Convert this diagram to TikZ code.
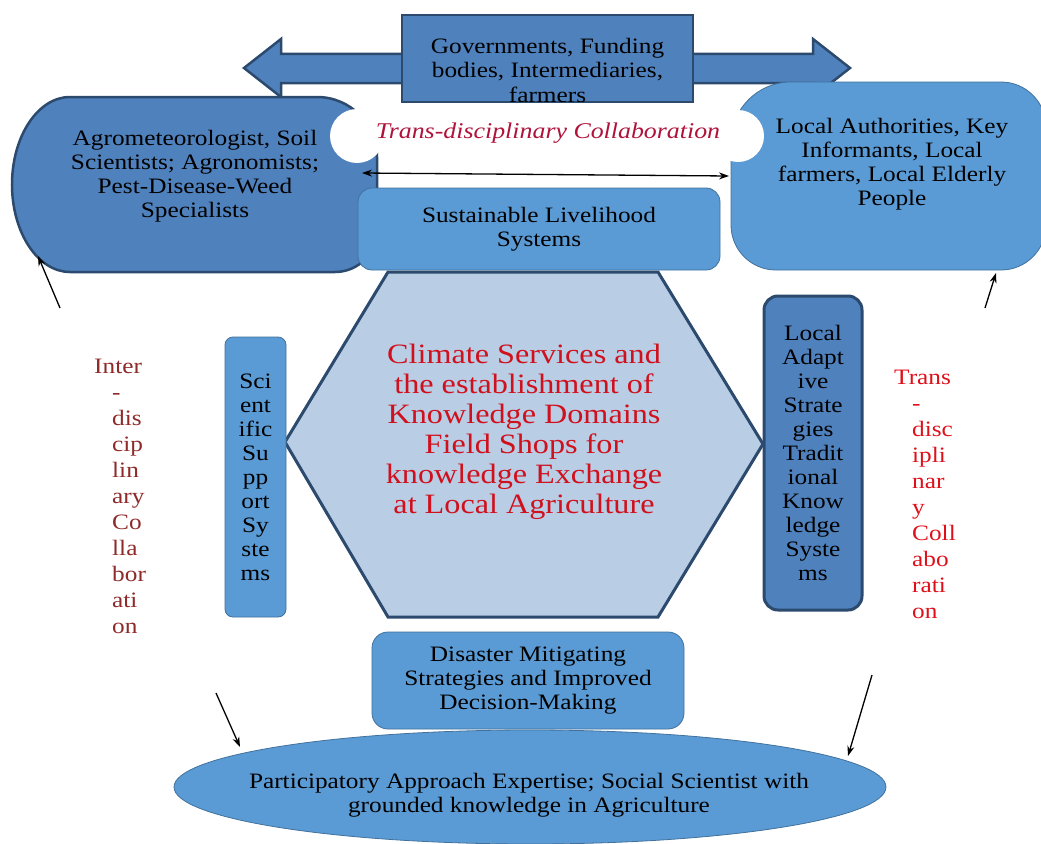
\documentclass[tikz,border=0pt]{standalone}
\usepackage{fontspec}
\setmainfont{Liberation Serif}[FakeStretch=1.15]
\usetikzlibrary{arrows.meta,shapes.geometric}
\definecolor{boxdark}{HTML}{4F81BD}
\definecolor{boxlight}{HTML}{5B9BD5}
\definecolor{hexfill}{HTML}{B9CDE5}
\definecolor{edgedark}{HTML}{2C4A6E}
\definecolor{edgemid}{HTML}{41719C}
\definecolor{hexred}{HTML}{D0101C}
\definecolor{interred}{HTML}{8E2A2A}
\definecolor{transred}{HTML}{E0101A}
\definecolor{crimsonred}{HTML}{B0123A}
\begin{document}
\begin{tikzpicture}[x=1pt,y=-1pt,
  lbl/.style={inner sep=0pt, align=center, font=\fontsize{22}{24}\selectfont},
  vlbl/.style={inner sep=0pt, align=left, font=\fontsize{22}{26}\selectfont},
  darkshape/.style={fill=boxdark, draw=edgedark, line width=2.5pt},
  lightbox/.style={fill=boxlight, draw=edgemid, line width=0.8pt, inner sep=0pt,
    align=center, font=\fontsize{22}{24}\selectfont},
  darkbox/.style={fill=boxdark, draw=edgedark, line width=3pt, inner sep=0pt,
    align=center, font=\fontsize{22}{24}\selectfont},
  conn/.style={draw=black, line width=1.3pt, -{Stealth[length=10pt,width=7pt]}}]

\useasboundingbox (0,0) rectangle (1041,843);
\fill[white] (0,0) rectangle (1041,843);
\clip (0,0) rectangle (1041,843);

% double block arrow behind the funding box
\path[darkshape] (244,68) -- (281,39) -- (281,54) -- (813,54) -- (813,39)
  -- (850,68) -- (813,97) -- (813,83) -- (281,83) -- (281,97) -- cycle;
\node[darkshape, minimum width=291, minimum height=87, inner sep=0pt] (gov) at (547.5,58.5) {};
\begin{scope}
  \clip (403,16) rectangle (692,101);
  \node[lbl, font=\fontsize{22}{24.5}\selectfont] (govtxt) at (547.5,70) {Governments, Funding\\bodies, Intermediaries,\\farmers};
\end{scope}

% left expert group
\path[darkshape] (70,97) -- (317,97) .. controls (350.1,97) and (377,123.9) .. (377,157)
  -- (377,230) .. controls (377,253.2) and (358.2,272) .. (335,272) -- (70,272)
  .. controls (38,272) and (12,232.8) .. (12,184.5)
  .. controls (12,136.2) and (38,97) .. (70,97) -- cycle;
\node[lbl] (experts) at (195,176.5) {Agrometeorologist, Soil\\Scientists; Agronomists;\\Pest-Disease-Weed\\Specialists};

% right local group
\path[fill=boxlight, draw=edgemid, line width=0.8pt]
  (791,82) -- (1001,82) .. controls (1025.9,82) and (1046,102.1) .. (1046,127)
  -- (1046,225) .. controls (1046,249.9) and (1025.9,270) .. (1001,270)
  -- (776,270) .. controls (751.1,270) and (731,249.9) .. (731,225)
  -- (731,142) .. controls (731,108.9) and (757.9,82) .. (791,82) -- cycle;
\node[lbl] (locals) at (892,164) {Local Authorities, Key\\Informants, Local\\farmers, Local Elderly\\People};

% white band carrying the collaboration label
\fill[white] (548,135) ellipse [x radius=200, y radius=30];
\fill[white] (357,136) circle [radius=27];
\fill[white] (738,136) circle [radius=26];
\node[inner sep=0pt, text=crimsonred, font=\itshape\fontsize{22.5}{24}\selectfont] (tdc) at (548,133) {Trans-disciplinary Collaboration};

\coordinate (tdL) at (362,173);
\coordinate (tdR) at (729,176);
\draw[conn, {Stealth[length=10pt,width=7pt]}-{Stealth[length=10pt,width=7pt]}] (tdL) -- (tdR);

% livelihood box
\node[lightbox, rounded corners=14pt, minimum width=362, minimum height=82] (sls) at (539,229) {Sustainable Livelihood\\Systems};

% central hexagon
\path[fill=hexfill, draw=edgedark, line width=3pt] (388,272) -- (658,272) -- (763,444)
  -- (658,617) -- (388,617) -- (285,442) -- cycle;
\node[inner sep=0pt, align=center, text=hexred, font=\fontsize{28}{30}\selectfont] (core) at (524,432)
  {Climate Services and\\the establishment of\\Knowledge Domains\\Field Shops for\\knowledge Exchange\\at Local Agriculture};

% side boxes
\node[lightbox, rounded corners=8pt, minimum width=61, minimum height=280] (sss) at (255.5,477)
  {Sci\\ent\\ific\\Su\\pp\\ort\\Sy\\ste\\ms};
\node[darkbox, rounded corners=14pt, minimum width=98, minimum height=314] (las) at (813,453)
  {Local\\Adapt\\ive\\Strate\\gies\\Tradit\\ional\\Know\\ledge\\Syste\\ms};

% side labels
\node[vlbl, text=interred, anchor=west] (inter) at (112,496)
  {\hspace*{-18pt}Inter\\-\\dis\\cip\\lin\\ary\\Co\\lla\\bor\\ati\\on};
\node[vlbl, text=transred, anchor=west] (trans) at (912,494.5)
  {\hspace*{-18pt}Trans\\-\\disc\\ipli\\nar\\y\\Coll\\abo\\rati\\on};

% lower boxes
\node[lightbox, rounded corners=16pt, minimum width=312, minimum height=97] (dms) at (528,680.5)
  {Disaster Mitigating\\Strategies and Improved\\Decision-Making};
\node[ellipse, fill=boxlight, draw=edgemid, line width=0.8pt, minimum width=712, minimum height=114, inner sep=0pt] (pae) at (530,787) {};
\node[lbl] (paetxt) at (529,795.5) {Participatory Approach Expertise; Social Scientist with\\grounded knowledge in Agriculture};

% free arrows
\coordinate (a1s) at (60,308);  \coordinate (a1e) at (38,256);
\coordinate (a2s) at (985,308); \coordinate (a2e) at (996,273);
\coordinate (a3s) at (216,693); \coordinate (a3e) at (240,747);
\coordinate (a4s) at (872,675); \coordinate (a4e) at (848,756);
\draw[conn] (a1s) -- (a1e);
\draw[conn] (a2s) -- (a2e);
\draw[conn] (a3s) -- (a3e);
\draw[conn] (a4s) -- (a4e);
\end{tikzpicture}
\end{document}
